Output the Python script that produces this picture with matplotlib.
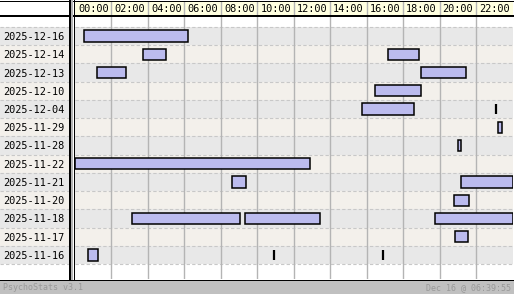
import matplotlib
matplotlib.use("Agg")
import matplotlib.pyplot as plt
from matplotlib.lines import Line2D
from matplotlib.patches import Rectangle

# session data (hours of day)
dates = ["2025-12-16", "2025-12-14", "2025-12-13", "2025-12-10", "2025-12-04",
         "2025-11-29", "2025-11-28", "2025-11-22", "2025-11-21", "2025-11-20",
         "2025-11-18", "2025-11-17", "2025-11-16"]
sess_row = [0, 1, 1, 2, 2, 3, 4, 5, 6, 7, 8, 8, 9, 10, 10, 10, 11, 12]
sess_start = [0.5, 3.75, 17.15, 1.23, 18.97, 16.45, 15.73, 23.2, 21.0, 0.0,
              8.6, 21.17, 20.8, 3.1, 9.3, 19.74, 20.84, 0.73]
sess_end = [6.2, 4.98, 18.88, 2.8, 21.47, 18.99, 18.6, 23.45, 21.19, 12.9,
            9.38, 24.0, 21.62, 9.05, 13.43, 24.0, 21.58, 1.25]
mark_row = [4, 12, 12]
mark_time = [23.08, 10.93, 16.92]
hour_labels = ["00:00", "02:00", "04:00", "06:00", "08:00", "10:00",
               "12:00", "14:00", "16:00", "18:00", "20:00", "22:00"]
footer_left = "PsychoStats v3.1"
footer_right = "Dec 16 @ 06:39:55"

W, H = 514, 294
ROW_A = "#e8e8e8"
ROW_B = "#f3f0eb"
GRID = "#b4b4b4"
BAR = "#bbbbee"
MONO = "DejaVu Sans Mono"

fig = plt.figure(figsize=(W / 100, H / 100), dpi=100)
fig.patch.set_facecolor("white")


def px_axes(x0, y0, x1, y1):
    a = fig.add_axes([x0 / W, 1 - y1 / H, (x1 - x0) / W, (y1 - y0) / H])
    a.set_axis_off()
    return a


n = len(dates)
ylim = (n + 0.82, -0.55)

# main chart
ax = px_axes(75, 17, 512.5, 279)
ax.set_xlim(0, 24)
ax.set_ylim(*ylim)
for i in range(n):
    ax.axhspan(i, i + 1, color=ROW_A if i % 2 == 0 else ROW_B, lw=0, zorder=0)
ax.hlines(range(n + 1), 0, 24, colors="#c8c8c8", linestyles=(0, (3, 2)), lw=0.8, zorder=1)
for h in range(2, 24, 2):
    ax.axvline(h, color=GRID, lw=1.0, zorder=1)
ax.barh([r + 0.5 for r in sess_row], [e - s for s, e in zip(sess_start, sess_end)],
        left=sess_start, height=0.62, color=BAR, edgecolor="black", lw=1.1, zorder=3)
ax.vlines(mark_time, [r + 0.22 for r in mark_row], [r + 0.78 for r in mark_row],
          colors="black", lw=1.6, zorder=3)

# date labels column
lab = px_axes(0, 17, 70, 279)
lab.set_xlim(0, 70)
lab.set_ylim(*ylim)
for i, d in enumerate(dates):
    lab.axhspan(i, i + 1, color=ROW_A if i % 2 == 0 else ROW_B, lw=0, zorder=0)
    lab.text(3, i + 0.55, d, family=MONO, fontsize=7.4, va="center", ha="left")
lab.hlines(range(n + 1), 0, 70, colors="#c8c8c8", linestyles=(0, (3, 2)), lw=0.8)

# hour header
head = px_axes(75, 1, 512.5, 16)
head.set_xlim(0, 24)
head.set_ylim(0, 1)
head.axhspan(0, 1, color="#ffffe0", lw=0)
for k, t in enumerate(hour_labels):
    head.text(k * 2 + 0.17, 0.48, t, family=MONO, fontsize=7.4, va="center", ha="left")
    if k:
        head.axvline(k * 2, color=GRID, lw=1.0)

# footer
foot = px_axes(0, 280, W, H)
foot.set_xlim(0, W)
foot.set_ylim(1, 0)
foot.add_patch(Rectangle((0, 0), W, 1, color="#c0c0c0", lw=0))
foot.text(3, 0.55, footer_left, family=MONO, fontsize=6.0, color="#999999", va="center")
foot.text(W - 3, 0.55, footer_right, family=MONO, fontsize=6.0, color="#999999",
          va="center", ha="right")


def fline(x0, y0, x1, y1, color="black", lw=0.72):
    fig.add_artist(Line2D([x0 / W, x1 / W], [1 - y0 / H, 1 - y1 / H],
                          color=color, lw=lw, transform=fig.transFigure))


# frame lines
fline(0, 0.5, W, 0.5)
fline(0, 16, W, 16, lw=1.44)
fline(0, 279.5, W, 279.5)
fline(70, 0, 70, 279, lw=1.44)
fline(72, 0, 72, 279, color="#b4b4b4", lw=1.44)
fline(74.3, 0, 74.3, 279)
fline(513.5, 0, 513.5, 279)

fig.savefig("out.png", dpi=100)
